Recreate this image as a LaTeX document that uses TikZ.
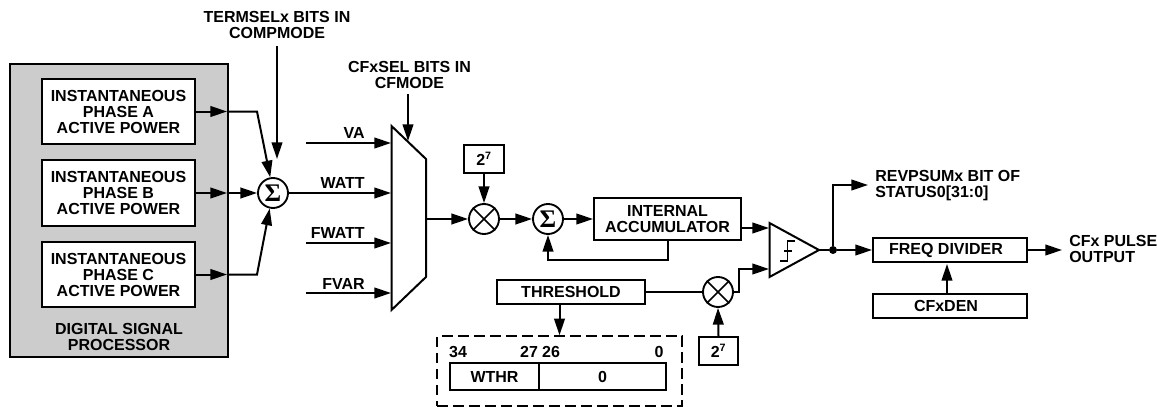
\documentclass[tikz,border=0pt]{standalone}
\usepackage{fontspec}
\setmainfont{Liberation Sans}
\newfontfamily\sigf{Liberation Serif}
\usetikzlibrary{arrows.meta}
\newcommand{\sumglyph}{{\sigf\bfseries\fontsize{19}{19}\selectfont Σ}}
\tikzset{
  wire/.style={line width=1.5pt,line join=miter},
  arr/.style={wire,-{Triangle[length=12.5pt,width=8pt]}},
  lab/.style={font=\fontsize{12}{12}\selectfont\bfseries,align=center,inner sep=0pt},
  labl/.style={lab,align=left,anchor=west},
  labr/.style={lab,anchor=east},
  pxbox/.style 2 args={draw,line width=1.5pt,fill=white,rectangle,inner sep=0pt,
    minimum width=#1*0.75pt,minimum height=#2*0.75pt,lab},
  opn/.style={draw,line width=1.4pt,fill=white,circle,inner sep=0pt,minimum size=22.5pt},
}
\begin{document}
\begin{tikzpicture}[x=0.75pt,y=-0.75pt]
\useasboundingbox (0,0) rectangle (1157,407);
% DSP
\node[pxbox={218}{293},fill={rgb,255:red,204;green,204;blue,204}] (dsp) at (119,210.5) {};
\node[pxbox={153}{65}] (pa) at (118.5,111.5) {INSTANTANEOUS\\PHASE A\\ACTIVE POWER};
\node[pxbox={153}{66}] (pb) at (118.5,193) {INSTANTANEOUS\\PHASE B\\ACTIVE POWER};
\node[pxbox={153}{65}] (pc) at (118.5,274.5) {INSTANTANEOUS\\PHASE C\\ACTIVE POWER};
\node[lab] (dsplab) at (119,337) {DIGITAL SIGNAL\\PROCESSOR};
% sum 1
\node[opn] (s1) at (273,193) {\sumglyph};
\node[lab] (tsel) at (277,25) {TERMSELx BITS IN\\COMPMODE};
\coordinate (tsel0) at (277,46);
\coordinate (tsel1) at (277,159);
\draw[arr] (tsel0) -- (tsel1);
\coordinate (ma) at (227,111.5);
\coordinate (mb) at (227,193);
\coordinate (mc) at (227,274.5);
\coordinate (ca) at (257,111.5);
\coordinate (cc) at (257,274.5);
\draw[arr] (pa.east) -- (ma);
\draw[arr] (pb.east) -- (mb);
\draw[arr] (pc.east) -- (mc);
\draw[arr] (ma) -- (ca) -- (s1.100);
\draw[arr] (mb) -- (s1.west);
\draw[arr] (mc) -- (cc) -- (s1.258);
% mux
\coordinate (m1) at (391.5,126);
\coordinate (m2) at (426,159);
\coordinate (m3) at (426,277);
\coordinate (m4) at (391.5,310);
\draw[wire,fill=white] (m1) -- (m2) -- (m3) -- (m4) -- cycle;
\coordinate (muxout) at (426,219);
\coordinate (iva) at (306,143);
\coordinate (iwa) at (391,193);
\coordinate (ifw) at (306,243);
\coordinate (ifv) at (306,293);
\draw[arr] (iva) -- (391,143);
\draw[arr] (s1.east) -- (iwa);
\draw[arr] (ifw) -- (391,243);
\draw[arr] (ifv) -- (391,293);
\node[labr] (lva) at (365,133) {VA};
\node[labr] (lwa) at (365,182.5) {WATT};
\node[labr] (lfw) at (365,232.5) {FWATT};
\node[labr] (lfv) at (365,283.5) {FVAR};
\node[lab] (csel) at (409.5,74.5) {CFxSEL BITS IN\\CFMODE};
\coordinate (csel0) at (408,94);
\coordinate (csel1) at (408,141);
\draw[arr] (csel0) -- (csel1);
% multiplier 1
\node[opn] (x1) at (484,219) {};
\draw[line width=1.3pt] (x1.45) -- (x1.225) (x1.135) -- (x1.315);
\node[pxbox={40}{28}] (p1) at (484,159) {2\textsuperscript{7}};
\draw[arr] (p1.south) -- (x1.north);
\draw[arr] (muxout) -- (x1.west);
% sum 2
\node[opn] (s2) at (548,219) {\sumglyph};
\draw[arr] (x1.east) -- (s2.west);
\node[pxbox={147}{42}] (acc) at (667.5,219) {INTERNAL\\ACCUMULATOR};
\draw[arr] (s2.east) -- (acc.west);
\coordinate (fb1) at (668,260);
\coordinate (fb2) at (548,260);
\draw[arr] (acc.south -| fb1) -- (fb1) -- (fb2) -- (s2.south);
% comparator
\coordinate (c1) at (769.5,223);
\coordinate (c2) at (819,250);
\coordinate (c3) at (769.5,277);
\draw[wire,fill=white] (c1) -- (c2) -- (c3) -- cycle;
\draw[line width=1.2pt] (780,261) -- (787.5,261) -- (787.5,241) -- (795,241) (784,251) -- (792,251);
\coordinate (cin1) at (769,228);
\coordinate (cin2) at (769,269);
\draw[arr] (acc.east |- cin1) -- (cin1);
% threshold
\node[pxbox={148}{24}] (thr) at (571,292) {THRESHOLD};
\node[opn] (x2) at (718,292) {};
\draw[line width=1.3pt] (x2.45) -- (x2.225) (x2.135) -- (x2.315);
\draw[wire] (thr.east) -- (x2.west);
\coordinate (k1) at (739,292);
\coordinate (k2) at (739,269);
\draw[arr] (x2.east) -- (k1) -- (k2) -- (cin2);
\node[pxbox={39}{28}] (p2) at (718.5,351) {2\textsuperscript{7}};
\draw[arr] (p2.north) -- (x2.south);
% register
\node[draw,dash pattern=on 8pt off 4pt,line width=1.5pt,rectangle,inner sep=0pt,minimum width=245*0.75pt,minimum height=69.5*0.75pt] (dash) at (559.5,371) {};
\draw[arr] (thr.south -| dash.north) -- (dash.north);
\node[pxbox={89}{27}] (wthr) at (494.5,376.5) {WTHR};
\node[pxbox={127}{27}] (zero) at (602.5,376.5) {0};
\node[lab] (b34) at (458,352) {34};
\node[lab] (b27) at (529,352) {27};
\node[lab] (b26) at (551,352) {26};
\node[lab] (b0) at (659,352) {0};
% output
\node[circle,fill=black,inner sep=0pt,minimum size=6pt] (dot) at (833,250) {};
\draw[wire] (c2) -- (dot);
\coordinate (r1) at (833,185);
\coordinate (r2) at (868,185);
\draw[arr] (dot) -- (r1) -- (r2);
\node[labl] (rev) at (875,186) {REVPSUMx BIT OF\\STATUS0[31:0]};
\node[pxbox={154}{24}] (fd) at (950,250) {\hspace*{-6pt}FREQ DIVIDER};
\draw[arr] (dot) -- (fd.west);
\coordinate (o1) at (1062,250);
\draw[arr] (fd.east) -- (o1);
\node[labl] (cfx) at (1069,249) {CFx PULSE\\OUTPUT};
\node[pxbox={154}{24}] (den) at (950,306) {\hspace*{-6pt}CFxDEN};
\coordinate (da) at (947,264);
\draw[arr] (den.north -| da) -- (da);
\end{tikzpicture}
\end{document}
